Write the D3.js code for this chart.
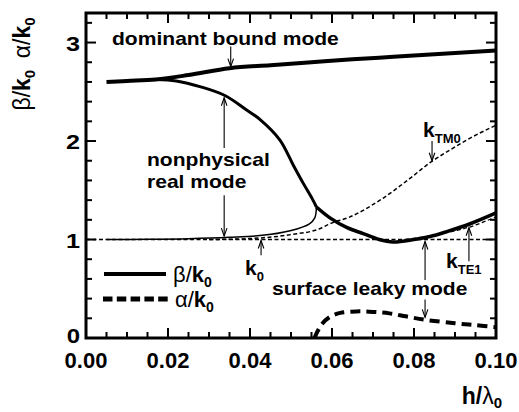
<!DOCTYPE html>
<html><head><meta charset="utf-8">
<script src="https://cdn.jsdelivr.net/npm/d3@7/dist/d3.min.js"></script>
<style>
html,body{margin:0;padding:0;background:#fff;}
svg{display:block;font-family:"Liberation Sans",Arial,sans-serif;}
</style></head>
<body>
<svg id="c" width="519" height="412"></svg>
<script>
// ---- data (h/lambda0 , value/k0) ----
const xTicks = [0.00, 0.02, 0.04, 0.06, 0.08, 0.10];
const xTickLabels = ["0.00", "0.02", "0.04", "0.06", "0.08", "0.10"];
const yTicks = [0, 1, 2, 3];
const yTickLabels = ["0", "1", "2", "3"];

const dominantX = [0.005, 0.010, 0.017, 0.025, 0.035, 0.045, 0.055, 0.065, 0.075, 0.085, 0.100];
const dominantY = [2.600, 2.610, 2.625, 2.670, 2.740, 2.770, 2.800, 2.830, 2.855, 2.880, 2.920];

const nonphysUpperX = [0.017, 0.022, 0.028, 0.034, 0.039, 0.0424, 0.0473, 0.0505, 0.053, 0.0551, 0.0562];
const nonphysUpperY = [2.625, 2.610, 2.550, 2.460, 2.320, 2.220, 2.010, 1.760, 1.570, 1.420, 1.330];

const nonphysLowerX = [0.005, 0.015, 0.025, 0.035, 0.0424, 0.0498, 0.0545, 0.0558, 0.0562];
const nonphysLowerY = [1.000, 1.002, 1.008, 1.022, 1.040, 1.090, 1.160, 1.220, 1.330];

const leakyX = [0.0562, 0.0595, 0.0637, 0.0676, 0.0715, 0.0749, 0.080, 0.0839, 0.088, 0.0937, 0.100];
const leakyY = [1.330, 1.220, 1.120, 1.060, 1.000, 0.975, 1.000, 1.030, 1.080, 1.160, 1.270];

const alphaX = [0.0557, 0.0575, 0.0595, 0.062, 0.066, 0.070, 0.074, 0.078, 0.0827, 0.090, 0.095, 0.100];
const alphaY = [0.000, 0.140, 0.215, 0.255, 0.270, 0.265, 0.250, 0.220, 0.185, 0.150, 0.130, 0.110];

const k0X = [0.000, 0.100];
const k0Y = [1.000, 1.000];

const kTM0X = [0.030, 0.040, 0.050, 0.057, 0.0595, 0.0644, 0.0717, 0.079, 0.0839, 0.0888, 0.0937, 0.100];
const kTM0Y = [1.000, 1.010, 1.050, 1.110, 1.160, 1.230, 1.400, 1.620, 1.780, 1.910, 2.030, 2.160];

const kTE1X = [0.078, 0.083, 0.088, 0.093, 0.100];
const kTE1Y = [1.000, 1.030, 1.070, 1.120, 1.230];

// ---- scales ----
const svg = d3.select("#c");
const x = d3.scaleLinear().domain([0, 0.1]).range([86, 496]);
const y = d3.scaleLinear().domain([0, 3.3]).range([338, 13]);

const zip = (xs, ys) => xs.map((v, i) => [v, ys[i]]);
const line = d3.line().x(d => x(d[0])).y(d => y(d[1])).curve(d3.curveMonotoneX);
const lineC = d3.line().x(d => x(d[0])).y(d => y(d[1])).curve(d3.curveCatmullRom.alpha(0.5));

// ---- curves ----
const g = svg.append("g");
g.append("path").attr("d", line(zip(k0X, k0Y))).attr("fill","none").attr("stroke","#000")
  .attr("stroke-width",1.3).attr("stroke-dasharray","4,2.5");
g.append("path").attr("d", line(zip(kTM0X, kTM0Y))).attr("fill","none").attr("stroke","#000")
  .attr("stroke-width",1.5).attr("stroke-dasharray","4,2.5");
g.append("path").attr("d", line(zip(kTE1X, kTE1Y))).attr("fill","none").attr("stroke","#000")
  .attr("stroke-width",1.3).attr("stroke-dasharray","4,2.5");
g.append("path").attr("d", lineC(zip(nonphysLowerX, nonphysLowerY))).attr("fill","none").attr("stroke","#000")
  .attr("stroke-width",1.5);
g.append("path").attr("d", lineC(zip(nonphysUpperX, nonphysUpperY))).attr("fill","none").attr("stroke","#000")
  .attr("stroke-width",3);
g.append("path").attr("d", lineC(zip(leakyX, leakyY))).attr("fill","none").attr("stroke","#000")
  .attr("stroke-width",3.5);
g.append("path").attr("d", line(zip(dominantX, dominantY))).attr("fill","none").attr("stroke","#000")
  .attr("stroke-width",4);
g.append("path").attr("d", lineC(zip(alphaX, alphaY))).attr("fill","none").attr("stroke","#000")
  .attr("stroke-width",4).attr("stroke-dasharray","10,6");

// ---- axes / frame ----
const fr = svg.append("g");
const minorX = d3.range(0, 0.1001, 0.005);
const minorY = d3.range(0, 3.3001, 0.2);
function isMajorX(v){ return Math.abs(v/0.02 - Math.round(v/0.02)) < 1e-6; }
function isMajorY(v){ return Math.abs(v - Math.round(v)) < 1e-6; }
minorX.forEach(v => {
  const L = isMajorX(v) ? 10 : 6;
  fr.append("line").attr("x1",x(v)).attr("x2",x(v)).attr("y1",y(0)).attr("y2",y(0)-L).attr("stroke","#000").attr("stroke-width",2);
  fr.append("line").attr("x1",x(v)).attr("x2",x(v)).attr("y1",y(3.3)).attr("y2",y(3.3)+L).attr("stroke","#000").attr("stroke-width",2);
});
minorY.forEach(v => {
  const L = isMajorY(v) ? 10 : 6;
  fr.append("line").attr("x1",x(0)).attr("x2",x(0)+L).attr("y1",y(v)).attr("y2",y(v)).attr("stroke","#000").attr("stroke-width",2);
  fr.append("line").attr("x1",x(0.1)).attr("x2",x(0.1)-L).attr("y1",y(v)).attr("y2",y(v)).attr("stroke","#000").attr("stroke-width",2);
});
fr.append("rect").attr("x",x(0)).attr("y",y(3.3)).attr("width",x(0.1)-x(0)).attr("height",y(0)-y(3.3))
  .attr("fill","none").attr("stroke","#000").attr("stroke-width",3);

// tick labels
xTicks.forEach((v,i) => {
  svg.append("text").attr("x",x(v)).attr("y",368).attr("text-anchor","middle")
    .attr("font-size",22).attr("font-weight","bold").text(xTickLabels[i]);
});
yTicks.forEach((v,i) => {
  svg.append("text").attr("transform",`translate(80,${y(v) + (v === 0 ? 5 : 8)}) scale(1.2,1)`).attr("text-anchor","end")
    .attr("font-size",v === 0 ? 20 : 21).attr("font-weight","bold").text(yTickLabels[i]);
});

// axis titles
const yl = svg.append("text").attr("transform","translate(30,64) rotate(-90)").attr("text-anchor","middle")
  .attr("font-size",23);
yl.append("tspan").text("β/");
yl.append("tspan").attr("font-weight","bold").text("k");
yl.append("tspan").attr("font-weight","bold").attr("font-size",15).attr("dy",5).text("0");
yl.append("tspan").attr("dy",-5).text("\u2002α/");
yl.append("tspan").attr("font-weight","bold").text("k");
yl.append("tspan").attr("font-weight","bold").attr("font-size",15).attr("dy",5).text("0");

const xl = svg.append("text").attr("x",502).attr("y",404).attr("text-anchor","end").attr("font-size",23);
xl.append("tspan").attr("font-weight","bold").text("h/");
xl.append("tspan").text("λ");
xl.append("tspan").attr("font-weight","bold").attr("font-size",15).attr("dy",4).text("0");

// ---- annotations ----
function stext(px, py, str, size, sx){
  return svg.append("text").attr("transform",`translate(${px},${py}) scale(${sx},1)`)
    .attr("font-size",size).attr("font-weight","bold").text(str);
}
stext(112, 45, "dominant bound mode", 18, 1.17);
stext(147, 166, "nonphysical", 18, 1.17);
stext(147, 188, "real mode", 18, 1.17);
stext(272, 295, "surface leaky mode", 18, 1.17);

function ksub(px, py, sub){
  const t = svg.append("text").attr("x",px).attr("y",py).attr("font-size",21).attr("font-weight","bold");
  t.append("tspan").text("k");
  t.append("tspan").attr("font-size",13).attr("dy",6).text(sub);
}
ksub(423, 137, "TM0");
ksub(245, 275, "0");
ksub(446, 268, "TE1");

// arrows: [x, yFrom, yTo(head)]
const arrows = [
  [0.0353, 2.96, 2.755],
  [0.0337, 1.93, 2.44],
  [0.0337, 1.45, 1.035],
  [0.0844, 2.00, 1.80],
  [0.0427, 0.84, 0.99],
  [0.0827, 0.59, 0.98],
  [0.0827, 0.39, 0.21],
  [0.0934, 0.78, 1.12]
];
arrows.forEach(a => {
  const xp = x(a[0]), y0 = y(a[1]), y1 = y(a[2]);
  const dir = y1 > y0 ? 1 : -1;
  svg.append("line").attr("x1",xp).attr("x2",xp).attr("y1",y0).attr("y2",y1)
    .attr("stroke","#000").attr("stroke-width",1.1);
  svg.append("path").attr("d",`M${xp-2.8},${y1-dir*8}L${xp},${y1}L${xp+2.8},${y1-dir*8}`)
    .attr("fill","none").attr("stroke","#000").attr("stroke-width",1.1);
});

// ---- legend ----
svg.append("line").attr("x1",104).attr("x2",166).attr("y1",274).attr("y2",274).attr("stroke","#000").attr("stroke-width",4);
svg.append("line").attr("x1",103).attr("x2",168).attr("y1",299).attr("y2",299).attr("stroke","#000").attr("stroke-width",5)
  .attr("stroke-dasharray","9.5,4.3");
const l1 = svg.append("text").attr("x",173).attr("y",282).attr("font-size",22);
l1.append("tspan").text("β/"); l1.append("tspan").attr("font-weight","bold").text("k");
l1.append("tspan").attr("font-weight","bold").attr("font-size",14).attr("dy",5).text("0");
const l2 = svg.append("text").attr("x",175).attr("y",307).attr("font-size",22);
l2.append("tspan").text("α/"); l2.append("tspan").attr("font-weight","bold").text("k");
l2.append("tspan").attr("font-weight","bold").attr("font-size",14).attr("dy",5).text("0");
</script>
</body></html>
